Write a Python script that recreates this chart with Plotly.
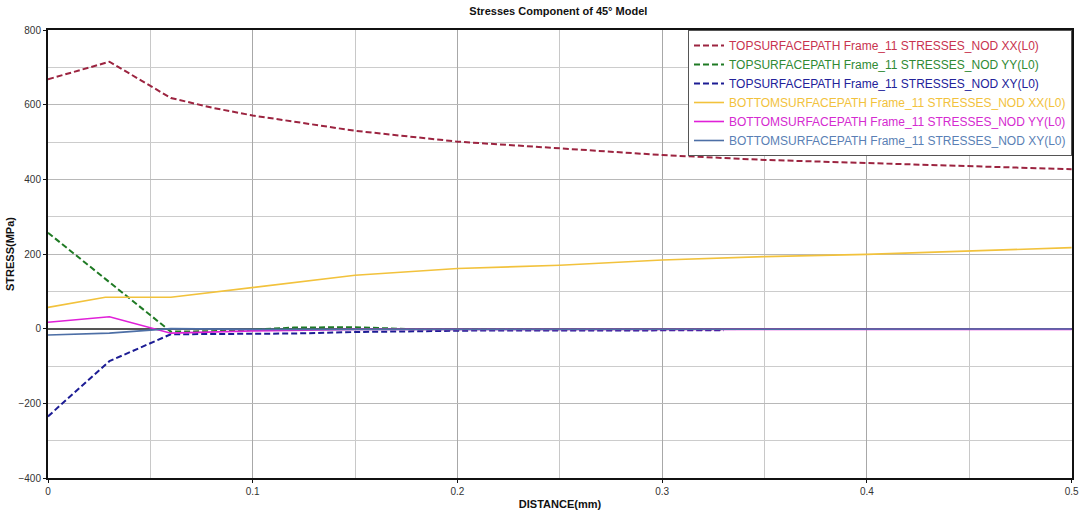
import plotly.graph_objects as go

# Distance along each path (mm) and nodal stress components (MPa)
top_xx_x = [0, 0.03, 0.06, 0.08, 0.1, 0.15, 0.2, 0.25, 0.3, 0.35, 0.4, 0.45, 0.5]
top_xx = [668, 715, 618, 592, 571, 530, 501, 483, 465, 452, 444, 434, 427]

top_yy_x = [0, 0.03, 0.06, 0.09, 0.12, 0.15, 0.18, 0.21, 0.27, 0.33]
top_yy = [257, 124, -8, -6, 3, 4, -2, -1, -1, -2]

top_xy_x = [0, 0.03, 0.06, 0.09, 0.12, 0.15, 0.18, 0.21, 0.27, 0.33]
top_xy = [-235, -87, -15, -14, -13, -9, -6, -5, -5, -4]

bot_xx_x = [0, 0.028, 0.06, 0.1, 0.15, 0.2, 0.25, 0.3, 0.35, 0.4, 0.45, 0.5]
bot_xx = [57, 84, 84, 111, 143, 161, 170, 184, 193, 199, 208, 217]

bot_yy_x = [0, 0.03, 0.06, 0.1, 0.15, 0.2, 0.3, 0.4, 0.5]
bot_yy = [17, 32, -12, -6, -2, -2, -2, -2, -2]

bot_xy_x = [0, 0.03, 0.06, 0.1, 0.2, 0.3, 0.4, 0.5]
bot_xy = [-17, -12, 0, -2, -2, -1, -1, -1]

x_ticks = [0, 0.1, 0.2, 0.3, 0.4, 0.5]
x_tick_text = ["0", "0.1", "0.2", "0.3", "0.4", "0.5"]

names = [
    "TOPSURFACEPATH Frame_11 STRESSES_NOD XX(L0)",
    "TOPSURFACEPATH Frame_11 STRESSES_NOD YY(L0)",
    "TOPSURFACEPATH Frame_11 STRESSES_NOD XY(L0)",
    "BOTTOMSURFACEPATH Frame_11 STRESSES_NOD XX(L0)",
    "BOTTOMSURFACEPATH Frame_11 STRESSES_NOD YY(L0)",
    "BOTTOMSURFACEPATH Frame_11 STRESSES_NOD XY(L0)",
]
line_colors = ["#9c2440", "#1f7a24", "#1c1c94", "#f2c23c", "#e020d8", "#4d6fa6"]
text_colors = ["#c8334f", "#2f8a34", "#22229a", "#f2c23c", "#d52ad0", "#5a7fb5"]

series = [
    (top_xx_x, top_xx, "6px,3px", 2),
    (top_yy_x, top_yy, "6px,3px", 2),
    (top_xy_x, top_xy, "6px,3px", 2),
    (bot_xx_x, bot_xx, "solid", 1.6),
    (bot_yy_x, bot_yy, "solid", 1.6),
    (bot_xy_x, bot_xy, "solid", 1.6),
]

fig = go.Figure()
for (xv, yv, dash, w), nm, lc, tc in zip(series, names, line_colors, text_colors):
    fig.add_trace(go.Scatter(
        x=xv, y=yv, mode="lines",
        line=dict(color=lc, width=w, dash=dash),
        name=f"<span style='color:{tc}'>{nm}</span>",
    ))

tick_font = dict(family="Liberation Sans, Arial, sans-serif", size=10, color="#333333")
narrow_bold = "Liberation Sans Narrow, Arial Narrow, Liberation Sans, sans-serif"

fig.update_layout(
    width=1080, height=513,
    margin=dict(l=48, r=8, t=30, b=35),
    paper_bgcolor="white", plot_bgcolor="white",
    title=dict(text="<b>Stresses Component of 45° Model</b>",
               x=0.517, xanchor="center", y=0.985, yanchor="top",
               font=dict(family=narrow_bold, size=11, color="#111111")),
    showlegend=True,
    legend=dict(x=1, xanchor="right", y=1, yanchor="top",
                bgcolor="white", bordercolor="#555555", borderwidth=1,
                font=dict(family="Liberation Sans, Arial, sans-serif", size=12),
                tracegroupgap=0, itemwidth=30),
    xaxis=dict(range=[0, 0.5002], tickvals=x_ticks, ticktext=x_tick_text,
               automargin=False,
               showgrid=True, gridcolor="#a8a8a8", gridwidth=1,
               minor=dict(dtick=0.05, tick0=0, showgrid=True, gridcolor="#c8c8c8"),
               showline=True, linecolor="#111111", linewidth=2, mirror=True,
               ticks="outside", ticklen=3, tickcolor="#111111",
               tickfont=tick_font, zeroline=False, ticklabeloverflow="allow",
               title=dict(text="<b>DISTANCE(mm)</b>", standoff=4,
                          font=dict(family=narrow_bold, size=11, color="#111111"))),
    yaxis=dict(range=[-400, 800], dtick=200, tick0=0, showgrid=True,
               automargin=False,
               gridcolor="#b8b8b8", gridwidth=1,
               minor=dict(dtick=100, showgrid=True, gridcolor="#cccccc"),
               showline=True, linecolor="#111111", linewidth=2, mirror=True,
               ticks="outside", ticklen=3, tickcolor="#111111",
               tickfont=tick_font,
               zeroline=True, zerolinecolor="#555555", zerolinewidth=1.5,
               title=dict(text="<b>STRESS(MPa)</b>", standoff=2,
                          font=dict(family=narrow_bold, size=11, color="#111111"))),
)

fig.write_html("out.html")
